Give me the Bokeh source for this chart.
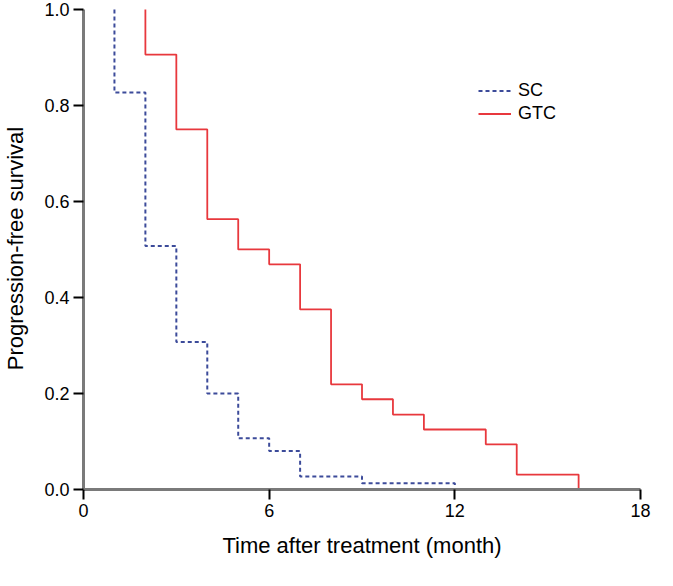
from bokeh.plotting import figure
from bokeh.models import Range1d, FixedTicker, Legend, LegendItem
from bokeh.embed import file_html
from bokeh.resources import INLINE

# Kaplan-Meier step data (months, survival probability)
sc_time = [1, 1, 2, 3, 4, 5, 6, 7, 9, 12]
sc_surv = [1.0, 0.827, 0.507, 0.307, 0.200, 0.107, 0.080, 0.027, 0.013, 0.0]

gtc_time = [2, 2, 3, 4, 5, 6, 7, 8, 9, 10, 11, 13, 14, 16]
gtc_surv = [1.0, 0.906, 0.750, 0.563, 0.500, 0.469, 0.375, 0.219, 0.188, 0.156, 0.125, 0.094, 0.031, 0.0]

x_ticks = [0, 6, 12, 18]
y_ticks = [0.0, 0.2, 0.4, 0.6, 0.8, 1.0]
series_names = ["SC", "GTC"]

FONT = "Liberation Sans"

p = figure(width=657, height=570, output_backend="svg", toolbar_location=None,
           x_range=Range1d(0, 18), y_range=Range1d(0, 1.004))
p.min_border_left = 79
p.min_border_right = 17
p.min_border_top = 7
p.min_border_bottom = 81
p.outline_line_color = None
p.grid.visible = False
p.background_fill_color = "white"
p.border_fill_color = "white"

r_sc = p.step(sc_time, sc_surv, mode="after", line_color="#3c4b9a", line_width=2,
              line_dash="4 3")
r_gtc = p.step(gtc_time, gtc_surv, mode="after", line_color="#e8383d", line_width=1.8)

for ax in (p.xaxis[0], p.yaxis[0]):
    ax.axis_line_color = "#7a7a7a"
    ax.axis_line_width = 3
    ax.major_tick_line_color = "black"
    ax.major_tick_line_width = 2
    ax.major_tick_out = 10
    ax.major_tick_in = 0
    ax.minor_tick_line_color = None
    ax.major_label_text_font = FONT
    ax.major_label_text_font_size = "18px"
    ax.major_label_text_color = "black"
    ax.axis_label_text_font = FONT
    ax.axis_label_text_font_size = "22px"
    ax.axis_label_text_font_style = "normal"
    ax.axis_label_text_color = "black"

p.xaxis.ticker = FixedTicker(ticks=x_ticks)
p.yaxis.ticker = FixedTicker(ticks=y_ticks)
p.yaxis.bounds = (0, 1)
p.yaxis.major_label_overrides = {t: f"{t:.1f}" for t in y_ticks}
p.xaxis.major_label_standoff = 4
p.yaxis.major_label_standoff = 4
p.xaxis.axis_label = "Time after treatment (month)"
p.yaxis.axis_label = "Progression-free survival"
p.xaxis.axis_label_standoff = 13
p.yaxis.axis_label_standoff = 13

legend = Legend(items=[LegendItem(label=series_names[0], renderers=[r_sc]),
                       LegendItem(label=series_names[1], renderers=[r_gtc])],
                location=(395, 365))
legend.border_line_color = None
legend.background_fill_alpha = 0
legend.padding = 0
legend.margin = 0
legend.spacing = 2
legend.glyph_width = 33
legend.glyph_height = 21
legend.label_height = 21
legend.label_standoff = 7
legend.label_text_font = FONT
legend.label_text_font_size = "18px"
legend.label_text_color = "black"
p.add_layout(legend)

open("out.html", "w").write(file_html(p, INLINE))
